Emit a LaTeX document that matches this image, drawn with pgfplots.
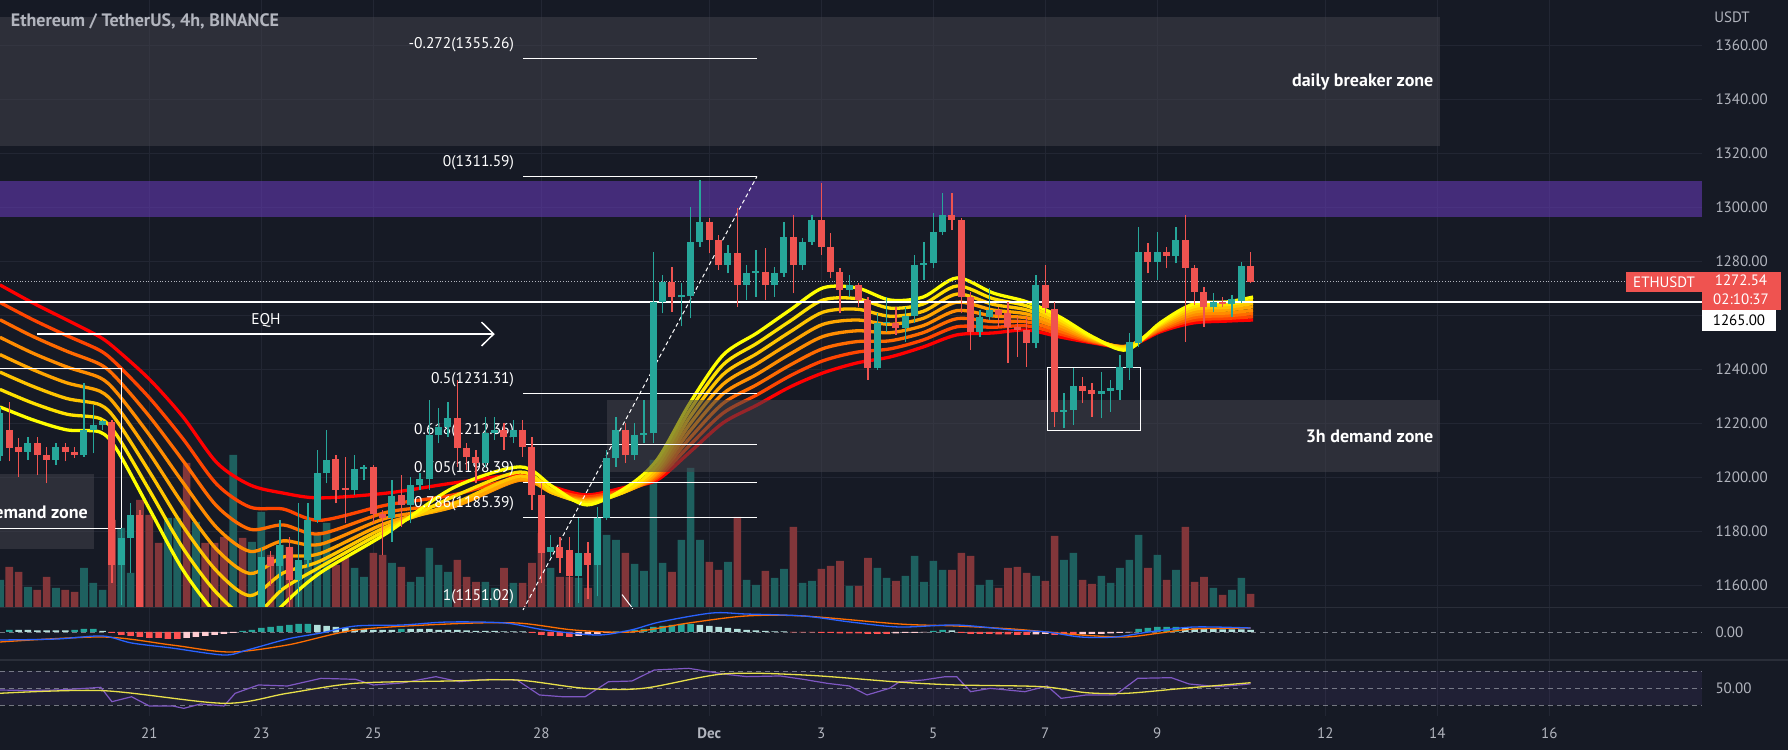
\documentclass[border=0pt]{standalone}
\usepackage{pgfplots}
\pgfplotsset{compat=1.18}
\usepackage{pgfplotstable}
\usepackage{fontspec}
\setmainfont{PT Sans}

\definecolor{bg}{HTML}{161A25}
\definecolor{gridc}{HTML}{222633}
\definecolor{sepc}{HTML}{2A2E39}
\definecolor{txt}{HTML}{B2B5BE}
\definecolor{up}{HTML}{26A69A}
\definecolor{dn}{HTML}{EF5350}
\definecolor{vup}{HTML}{1E605F}
\definecolor{vdn}{HTML}{82363A}
\definecolor{zone}{HTML}{41424B}
\definecolor{purp}{HTML}{6A3CBF}
\definecolor{ema0}{HTML}{FF0000}
\definecolor{ema1}{HTML}{FF4500}
\definecolor{ema2}{HTML}{FF6A00}
\definecolor{ema3}{HTML}{FF8C00}
\definecolor{ema4}{HTML}{FFA500}
\definecolor{ema5}{HTML}{FFC400}
\definecolor{ema6}{HTML}{FFE100}
\definecolor{ema7}{HTML}{FFFF00}
\definecolor{macdc}{HTML}{2962FF}
\definecolor{sigc}{HTML}{FF6D00}
\definecolor{hup}{HTML}{26A69A}
\definecolor{hupl}{HTML}{B2DFDB}
\definecolor{hdn}{HTML}{FF5252}
\definecolor{hdnl}{HTML}{FFCDD2}
\definecolor{rsic}{HTML}{7E57C2}
\definecolor{rsima}{HTML}{E8E04A}
\definecolor{lastred}{HTML}{EF5350}

\pgfplotstableread{
j o h l c
-1 1208.0 1226.0 1206.0 1224.0
2 1209.6 1215.2 1206.6 1212.7
5 1206.6 1212.7 1204.7 1211.5
8 1208.4 1235.0 1207.8 1217.7
9 1217.7 1226.9 1209.0 1219.5
10 1219.5 1221.4 1217.7 1221.0
12 1167.7 1181.3 1153.0 1177.6
13 1177.6 1190.5 1164.6 1186.2
17 1110.0 1126.0 1104.0 1122.0
18 1122.0 1134.0 1118.0 1130.0
20 1090.0 1110.0 1082.0 1105.0
24 1078.0 1130.0 1075.0 1125.0
26 1118.0 1140.0 1115.0 1135.0
27 1135.0 1174.0 1132.0 1170.8
29 1167.1 1184.3 1158.4 1175.1
31 1162.1 1190.5 1152.0 1169.5
32 1169.5 1190.5 1167.0 1184.3
33 1184.3 1210.3 1183.1 1201.6
34 1201.6 1217.7 1197.9 1206.6
37 1195.5 1208.4 1193.6 1203.1
38 1203.1 1204.7 1199.1 1203.8
41 1185.0 1199.1 1176.3 1193.2
43 1189.9 1200.4 1183.1 1197.3
44 1197.3 1201.6 1195.5 1199.4
45 1199.4 1228.8 1195.5 1215.8
46 1215.8 1225.7 1212.7 1218.9
47 1218.9 1228.2 1215.2 1222.0
51 1205.3 1222.6 1204.1 1216.4
52 1216.4 1222.6 1214.0 1217.5
54 1215.0 1221.4 1212.7 1217.5
58 1172.6 1178.8 1170.8 1174.2
61 1163.4 1185.0 1153.5 1172.0
63 1167.7 1189.3 1156.0 1184.9
64 1184.9 1210.3 1184.3 1207.2
65 1207.2 1222.6 1204.1 1217.7
67 1208.4 1220.1 1206.6 1215.8
68 1215.8 1228.8 1212.7 1216.4
69 1216.4 1283.7 1212.7 1265.2
70 1265.2 1275.1 1260.9 1272.6
72 1266.8 1272.0 1256.0 1267.7
73 1267.3 1300.4 1259.0 1287.4
74 1287.4 1310.3 1285.6 1294.8
77 1278.8 1286.2 1275.7 1283.1
79 1271.4 1278.8 1265.8 1275.9
80 1275.9 1284.3 1267.0 1276.5
82 1271.4 1278.2 1267.0 1275.7
83 1275.7 1294.8 1274.5 1289.0
85 1278.8 1288.6 1276.9 1287.4
86 1287.4 1297.3 1286.2 1295.4
90 1269.5 1275.1 1267.0 1271.4
93 1240.5 1260.9 1239.9 1257.2
94 1257.2 1267.0 1254.1 1257.7
96 1255.3 1263.3 1250.4 1259.9
97 1259.9 1282.5 1257.2 1278.8
98 1278.8 1287.4 1273.2 1279.4
99 1279.4 1297.9 1277.5 1291.1
100 1291.1 1305.3 1289.9 1297.3
104 1254.1 1262.1 1252.2 1259.6
105 1259.6 1270.1 1258.4 1262.1
110 1250.0 1275.1 1247.9 1271.4
113 1224.5 1231.2 1218.3 1225.1
114 1225.1 1240.5 1219.5 1234.0
117 1231.0 1239.3 1222.0 1232.2
118 1232.2 1236.2 1224.5 1233.1
119 1232.5 1245.4 1228.8 1240.9
120 1240.5 1253.5 1236.2 1250.4
121 1250.0 1293.0 1248.5 1283.7
123 1280.0 1291.1 1273.2 1283.7
125 1282.1 1293.0 1279.4 1288.0
129 1263.1 1268.3 1261.5 1265.2
131 1264.3 1267.7 1259.6 1266.1
132 1265.6 1280.0 1264.6 1278.4
}\upc

\pgfplotstableread{
j o h l c
0 1217.7 1228.2 1206.0 1210.9
1 1211.5 1214.6 1200.4 1209.6
3 1212.7 1215.2 1201.0 1208.4
4 1208.4 1211.5 1197.9 1206.6
6 1211.5 1212.7 1206.0 1209.6
7 1209.6 1211.5 1207.2 1208.4
11 1220.5 1221.4 1160.9 1167.7
14 1186.2 1188.0 1140.0 1145.0
15 1145.0 1150.0 1124.0 1128.0
16 1128.0 1135.0 1105.0 1110.0
19 1130.0 1133.0 1080.0 1090.0
21 1105.0 1109.0 1090.0 1095.0
22 1095.0 1100.0 1080.0 1085.0
23 1085.0 1090.0 1072.0 1078.0
25 1125.0 1132.0 1112.0 1118.0
28 1170.8 1173.0 1160.0 1167.1
30 1174.5 1178.2 1152.0 1162.1
35 1206.8 1208.4 1190.5 1195.5
36 1196.3 1207.8 1183.1 1195.5
39 1203.8 1204.7 1183.1 1186.6
40 1186.6 1188.0 1171.4 1185.0
42 1193.6 1201.0 1181.9 1189.9
48 1222.0 1236.2 1204.1 1210.9
49 1210.9 1212.7 1202.9 1207.8
50 1207.8 1210.3 1197.9 1205.3
53 1217.5 1220.1 1210.3 1215.0
55 1217.5 1221.4 1207.8 1211.5
56 1211.5 1215.2 1188.0 1193.6
57 1193.6 1197.9 1161.0 1172.0
59 1174.2 1178.2 1164.6 1170.2
60 1173.2 1178.2 1151.0 1163.4
62 1172.0 1176.3 1155.0 1167.7
66 1217.7 1220.1 1205.3 1208.4
71 1272.6 1278.2 1261.5 1267.0
75 1294.8 1296.1 1283.1 1288.0
76 1288.0 1289.9 1276.9 1278.8
78 1283.1 1299.8 1263.3 1271.4
81 1276.3 1285.0 1265.8 1271.4
84 1289.0 1297.3 1268.3 1278.8
87 1295.4 1309.0 1282.5 1285.6
88 1285.6 1290.5 1273.8 1276.0
89 1276.0 1277.5 1260.9 1269.5
91 1271.4 1272.0 1263.3 1265.8
92 1265.8 1267.0 1236.2 1240.5
95 1257.2 1263.3 1252.9 1255.3
101 1297.3 1305.3 1291.7 1295.4
102 1295.4 1296.1 1260.9 1267.0
103 1267.0 1268.9 1247.3 1254.1
106 1262.1 1263.3 1255.9 1260.3
107 1260.9 1265.2 1242.4 1255.9
108 1255.9 1259.6 1244.8 1254.7
109 1254.7 1259.6 1241.1 1250.0
111 1271.4 1278.8 1260.9 1262.7
112 1262.4 1265.2 1218.9 1224.5
115 1234.0 1237.4 1227.6 1232.2
116 1232.5 1235.0 1222.6 1231.0
122 1283.7 1286.8 1275.7 1280.0
124 1283.7 1285.6 1277.5 1282.1
126 1288.0 1297.3 1250.4 1277.5
127 1277.5 1278.8 1264.0 1268.9
128 1268.9 1270.8 1255.9 1263.1
130 1265.2 1267.0 1263.3 1264.3
133 1278.4 1283.7 1272.0 1272.54
}\dnc

\pgfplotstableread{
j e0 e1 e2 e3 e4 e5 e6 e7
-1.0 1271.4 1264.9 1258.5 1252.0 1245.6 1239.1 1232.7 1226.2
2.54 1264.7 1258.5 1252.3 1246.1 1240.0 1233.8 1227.6 1221.4
6.18 1258.4 1252.6 1246.8 1241.0 1235.1 1229.3 1223.5 1217.7
9.72 1252.1 1247.1 1242.0 1237.0 1232.0 1227.0 1221.9 1216.9
11.54 1247.3 1242.0 1236.7 1231.4 1226.2 1220.9 1215.6 1210.3
15.08 1236.2 1229.3 1222.4 1215.5 1208.7 1201.8 1194.9 1188.0
18.61 1222.5 1214.4 1206.3 1198.2 1190.1 1182.0 1173.9 1165.8
22.25 1205.5 1197.5 1189.4 1181.4 1173.3 1165.3 1157.2 1149.2
25.79 1197.3 1189.1 1180.9 1172.7 1164.5 1156.3 1148.1 1139.9
29.33 1194.3 1188.4 1182.5 1176.6 1170.6 1164.7 1158.8 1152.9
33.29 1192.5 1184.2 1179.2 1175.3 1171.9 1169.1 1166.9 1164.7
40.47 1194.3 1189.9 1187.2 1185.1 1183.3 1181.9 1180.7 1179.5
47.54 1198.0 1193.6 1190.6 1189.2 1189.2 1190.3 1192.9 1196.2
54.72 1201.0 1199.9 1199.1 1199.1 1199.5 1200.6 1202.1 1204.0
58.25 1196.6 1195.4 1194.7 1194.3 1194.3 1194.3 1195.1 1196.6
61.90 1193.6 1192.9 1192.1 1191.7 1191.4 1191.0 1190.6 1189.9
66.18 1196.6 1195.8 1195.4 1195.1 1195.1 1195.1 1195.4 1196.6
69.40 1199.1 1199.9 1200.6 1201.4 1202.1 1203.2 1204.7 1206.6
72.93 1209.5 1212.1 1214.7 1217.3 1219.9 1222.5 1225.1 1227.7
76.47 1220.3 1223.9 1227.5 1231.1 1234.6 1238.2 1241.8 1245.4
80.11 1226.9 1230.7 1234.5 1238.3 1242.2 1246.0 1249.8 1253.6
83.65 1233.6 1237.7 1241.7 1245.8 1249.9 1254.0 1258.0 1262.1
87.18 1238.8 1243.3 1247.8 1252.3 1256.8 1261.3 1265.8 1270.3
90.82 1242.5 1246.5 1250.4 1254.4 1258.4 1262.4 1266.3 1270.3
94.36 1244.7 1247.7 1250.7 1253.7 1256.8 1259.8 1262.8 1265.8
97.90 1248.4 1251.0 1253.7 1256.3 1259.0 1261.6 1264.3 1266.9
101.54 1252.9 1255.9 1258.9 1261.9 1265.0 1268.0 1271.0 1274.0
105.40 1253.6 1255.7 1257.8 1259.9 1262.1 1264.2 1266.3 1268.4
109.04 1254.7 1256.2 1257.7 1259.2 1260.6 1262.1 1263.6 1265.1
112.58 1252.1 1253.2 1254.2 1255.3 1256.3 1257.4 1258.4 1259.5
116.11 1249.9 1250.2 1250.5 1250.8 1251.1 1251.5 1251.8 1252.1
119.75 1248.4 1248.6 1248.7 1248.7 1248.6 1248.4 1248.0 1247.3
123.29 1254.0 1254.5 1254.9 1255.4 1255.9 1256.4 1256.8 1257.3
126.83 1257.3 1258.3 1259.3 1260.3 1261.3 1262.3 1263.3 1264.3
130.47 1258.0 1259.0 1260.0 1261.0 1262.1 1263.1 1264.1 1265.1
133.26 1258.4 1259.6 1260.8 1262.0 1263.3 1264.5 1265.7 1266.9
}\ema

\pgfplotsset{
  tvbase/.style={
    scale only axis, width=1702pt, anchor=south west,
    xmin=-0.996, xmax=181.36,
    axis line style={draw=none}, tick style={draw=none},
    clip mode=individual,
    xtick={15,27,39,57,75,87,99,111,123,141,153,165},
    grid style={gridc, line width=1pt},
    /pgf/number format/assume math mode=true,
  },
  wick/.style={draw=none, mark=none, error bars/.cd, y dir=plus, y explicit, error mark=none,
    error bar style={line width=1.1pt, draw=#1, solid}},
  body/.style={draw=none, mark=none, error bars/.cd, y dir=plus, y explicit, error mark=none,
    error bar style={line width=7pt, draw=#1, solid}},
  emaline/.style={smooth, tension=0.5, line width=3.3pt, draw=#1, mark=none},
}

\newcommand{\tf}[1]{\fontsize{#1}{#1}\selectfont}

\begin{document}
\begin{tikzpicture}
\useasboundingbox (0,0) rectangle (1788pt,750pt);
\fill[bg] (0,0) rectangle (1788pt,750pt);

% ---------- grid + price scale ----------
\begin{axis}[tvbase, at={(0pt,143pt)}, height=607pt, ymin=1152.1, ymax=1376.93,
  xmajorgrids, ymajorgrids, xticklabels={},
  ytick={1160,1180,1200,1220,1240,1260,1280,1300,1320,1340,1360},
  yticklabels={1160.00,1180.00,1200.00,1220.00,1240.00,,1280.00,1300.00,1320.00,1340.00,1360.00},
  yticklabel pos=right,
  yticklabel style={anchor=west, xshift=10pt, text=txt, font=\tf{15}},
]
\addplot[draw=none] coordinates {(0,1200)};
\end{axis}

% ---------- volume ----------
\begin{axis}[tvbase, at={(0pt,143pt)}, height=607pt, ymin=0, ymax=607, axis lines=none]
\addplot[ybar, bar shift=0pt, bar width=7.6pt, fill=vup, draw=none] coordinates {
(-1,27)(2,20)(5,19)(8,39)(9,24)(10,17)(12,79)(13,34)(17,89)(18,89)(20,85)(24,152)(26,65)(27,95)
(29,62)(31,45)(32,74)(33,72)(34,84)(37,39)(38,30)(41,44)(43,25)(44,30)(45,59)(46,42)(47,35)(51,25)
(52,19)(54,24)(58,39)(61,29)(63,89)(64,72)(65,67)(67,43)(68,36)(69,147)(70,44)(72,67)(73,139)(74,67)
(77,45)(79,27)(80,22)(82,29)(83,38)(85,24)(86,26)(90,21)(93,39)(94,29)(96,31)(97,51)(98,25)(99,46)
(100,37)(104,22)(105,27)(110,31)(113,47)(114,54)(117,31)(118,24)(119,39)(120,47)(121,72)(123,52)
(125,37)(129,19)(131,17)(132,29)};
\addplot[ybar, bar shift=0pt, bar width=7.6pt, fill=vdn, draw=none] coordinates {
(0,40)(1,35)(3,17)(4,30)(6,17)(7,15)(11,87)(14,107)(15,92)(16,64)(19,144)(21,64)(22,64)(23,70)
(25,69)(28,52)(30,60)(35,42)(36,50)(39,54)(40,52)(42,40)(48,47)(49,30)(50,25)(53,39)(55,24)(56,44)
(57,74)(59,30)(60,30)(62,19)(66,54)(71,35)(75,45)(76,37)(78,90)(81,36)(84,80)(87,38)(88,41)(89,46)
(91,21)(92,49)(95,26)(101,37)(102,54)(103,51)(106,19)(107,39)(108,40)(109,34)(111,26)(112,71)
(115,27)(116,23)(122,39)(124,27)(126,80)(127,25)(128,30)(130,12)(133,13)};
\end{axis}

% ---------- price pane ----------
\begin{axis}[tvbase, at={(0pt,143pt)}, height=607pt, ymin=1152.1, ymax=1376.93,
  xtick=\empty, ytick=\empty]
\fill[zone, fill opacity=0.55] (axis cs:-1,1370.6) rectangle (axis cs:153.3,1323.0);
\fill[purp, fill opacity=0.55] (axis cs:-1,1309.9) rectangle (axis cs:181.36,1296.7);
\addplot[emaline=ema0] table[x=j,y=e0] \ema;
\addplot[emaline=ema1] table[x=j,y=e1] \ema;
\addplot[emaline=ema2] table[x=j,y=e2] \ema;
\addplot[emaline=ema3] table[x=j,y=e3] \ema;
\addplot[emaline=ema4] table[x=j,y=e4] \ema;
\addplot[emaline=ema5] table[x=j,y=e5] \ema;
\addplot[emaline=ema6] table[x=j,y=e6] \ema;
\addplot[emaline=ema7] table[x=j,y=e7] \ema;
\fill[zone, fill opacity=0.55] (axis cs:64.04,1228.8) rectangle (axis cs:153.3,1202.2);
\fill[zone, fill opacity=0.55] (axis cs:-1,1201.4) rectangle (axis cs:9.08,1173.5);
\draw[white, line width=1.8pt] (axis cs:-1,1265) -- (axis cs:181.36,1265);
\draw[txt, line width=0.8pt, dotted] (axis cs:-1,1272.54) -- (axis cs:181.36,1272.54);
\draw[white, line width=1pt] (axis cs:55.04,1355.26) -- (axis cs:80.11,1355.26);
\draw[white, line width=1pt] (axis cs:55.04,1311.59) -- (axis cs:80.11,1311.59);
\draw[white, line width=1pt] (axis cs:55.04,1231.31) -- (axis cs:80.11,1231.31);
\draw[white, line width=1pt] (axis cs:55.04,1212.36) -- (axis cs:80.11,1212.36);
\draw[white, line width=1pt] (axis cs:55.04,1198.39) -- (axis cs:80.11,1198.39);
\draw[white, line width=1pt] (axis cs:55.04,1185.39) -- (axis cs:80.11,1185.39);
\draw[white, line width=1pt, dash pattern=on 4pt off 3pt] (axis cs:55.04,1151.02) -- (axis cs:80.11,1311.59);
\draw[white, line width=1pt] (axis cs:65.65,1156.7) -- (axis cs:66.8,1151.5);
\node[anchor=east, text=white, font=\tf{15.5}, inner sep=0pt] at (axis cs:54.1,1360.2) {-0.272(1355.26)};
\node[anchor=east, text=white, font=\tf{15.5}, inner sep=0pt] at (axis cs:54.1,1316.5) {0(1311.59)};
\node[anchor=east, text=white, font=\tf{15.5}, inner sep=0pt] at (axis cs:54.1,1236.2) {0.5(1231.31)};
\node[anchor=east, text=white, font=\tf{15.5}, inner sep=0pt] at (axis cs:54.1,1217.3) {0.618(1212.36)};
\node[anchor=east, text=white, font=\tf{15.5}, inner sep=0pt] at (axis cs:54.1,1203.3) {0.705(1198.39)};
\node[anchor=east, text=white, font=\tf{15.5}, inner sep=0pt] at (axis cs:54.1,1190.3) {0.786(1185.39)};
\node[anchor=east, text=white, font=\tf{15.5}, inner sep=0pt] at (axis cs:54.1,1155.8) {1(1151.02)};
\draw[white, line width=1.8pt] (axis cs:2.97,1253.2) -- (axis cs:51.9,1253.2);
\draw[white, line width=1.5pt] (axis cs:50.6,1257.6) -- (axis cs:51.9,1253.2) -- (axis cs:50.6,1248.8);
\node[text=white, font=\tf{15.5}] at (axis cs:27.5,1258.1) {EQH};
\draw[white, line width=1pt] (axis cs:-1,1240.5) rectangle (axis cs:12.04,1181.2);
\draw[white, line width=1pt] (axis cs:111.2,1240.9) rectangle (axis cs:121.2,1217.4);
\addplot[wick=up] table[x=j, y=l, y error plus expr=\thisrow{h}-\thisrow{l}] \upc;
\addplot[wick=dn] table[x=j, y=l, y error plus expr=\thisrow{h}-\thisrow{l}] \dnc;
\addplot[body=up] table[x=j, y=o, y error plus expr=\thisrow{c}-\thisrow{o}] \upc;
\addplot[body=dn] table[x=j, y=o, y error plus expr=\thisrow{c}-\thisrow{o}] \dnc;
\node[anchor=east, text=white, font=\bfseries\tf{18}, inner sep=0pt] at (axis cs:152.6,1346.7) {daily breaker zone};
\node[anchor=east, text=white, font=\bfseries\tf{18}, inner sep=0pt] at (axis cs:152.6,1215.3) {3h demand zone};
\node[anchor=east, text=white, font=\bfseries\tf{18}, inner sep=0pt] at (axis cs:8.43,1187.0) {demand zone};
\end{axis}

% ---------- MACD ----------
\begin{axis}[tvbase, at={(0pt,90pt)}, height=53pt, ymin=-28, ymax=25,
  xmajorgrids, xticklabels={},
  ytick={0}, yticklabels={0.00}, yticklabel pos=right,
  yticklabel style={anchor=west, xshift=10pt, text=txt, font=\tf{15}}]
\draw[txt, opacity=0.6, dash pattern=on 5pt off 4pt] (axis cs:-1,0) -- (axis cs:181.36,0);
\addplot[ybar, bar shift=0pt, bar width=6.5pt, fill=hup, draw=none] coordinates {
(0,2)(7,2)(8,3)(9,3)(25,1)(26,2)(27,4)(28,5)(29,6)(30,7)(31,8)(32,8)(42,3)(65,0.5)(66,1)(67,2)(68,3)
(69,5)(70,6)(71,7)(72,8)(73,8)(99,1)(100,2)(121,3)(122,4)(123,5)(124,5)(125,5)};
\addplot[ybar, bar shift=0pt, bar width=6.5pt, fill=hupl, draw=none] coordinates {
(1,2)(2,2)(3,1.5)(4,1.5)(5,1.5)(6,1.5)(10,1)(33,7)(34,6)(35,5)(36,4)(37,3)(38,3)(39,2)(40,2)(41,2)
(43,3)(44,3)(45,3)(46,2)(47,2)(48,2)(49,1.5)(50,1)(51,1)(52,1)(53,0.5)(54,0.5)(55,0.5)(74,7)(75,6)
(76,5)(77,4)(78,3)(79,2)(80,1.5)(81,1)(82,0.5)(83,0.5)(101,1.5)(126,4)(127,3.5)(128,3)(129,3)(130,2.5)
(131,2.5)(132,2.5)(133,2)};
\addplot[ybar, bar shift=0pt, bar width=6.5pt, fill=hdn, draw=none] coordinates {
(11,-1)(12,-3)(13,-4)(14,-5)(15,-6)(16,-6)(17,-7)(18,-7)(56,-1)(57,-3)(58,-4)(59,-4)(60,-5)(84,-0.5)
(85,-0.5)(86,-0.5)(87,-1)(88,-1)(89,-1.5)(90,-1.5)(91,-1.5)(92,-2)(93,-2)(94,-2)(102,-1)(103,-2)
(104,-2)(105,-2)(106,-2.5)(107,-2.5)(108,-3)(109,-3)(112,-3)(113,-3)(114,-3)};
\addplot[ybar, bar shift=0pt, bar width=6.5pt, fill=hdnl, draw=none] coordinates {
(19,-6)(20,-5)(21,-4)(22,-3)(23,-2)(24,-1)(61,-4)(62,-3)(63,-2)(64,-1)(95,-1.5)(96,-1)(97,-1)(98,-0.5)
(110,-2.5)(111,-2)(115,-2.5)(116,-2)(117,-2)(118,-1.5)(119,-1)(120,-0.5)};
\addplot[smooth, sigc, line width=1.3pt, mark=none] coordinates {
(-1,-10)(10,-5)(17.4,-13)(23.6,-20)(29.8,-13)(37.1,2)(47,8)(54.4,9)(60.5,2)(66.6,0)(72.8,9)(78.9,16)
(85.1,16)(95.4,8)(101.5,6)(107.5,3)(111.2,0)(114.8,-3)(119.6,-5)(123.3,-1)(126.9,3)(133,4)};
\addplot[smooth, macdc, line width=1.3pt, mark=none] coordinates {
(-1,-8)(5.1,-7)(10,-4)(13.1,-11)(17.4,-16)(23,-23)(25.5,-18)(29.8,-7)(33.4,-1)(37.1,6)(42.1,7)(47,10)
(53.1,9)(57.4,2)(63,-3)(66.6,2)(69.7,10)(75.3,19)(78.9,18)(85.1,16)(90.1,10)(95.4,5)(101.5,7)(107.5,2)
(111.2,0)(114.8,-5)(118.5,-5)(122.1,0)(126.9,5)(133,4)};
\end{axis}

% ---------- RSI ----------
\begin{axis}[tvbase, at={(0pt,34pt)}, height=56pt, ymin=16.67, ymax=83.33,
  xmajorgrids,
  xticklabels={21,23,25,28,\textbf{Dec},3,5,7,9,12,14,16},
  xticklabel style={text=txt, font=\tf{15}, yshift=-8pt},
  ytick={50}, yticklabels={50.00}, yticklabel pos=right,
  yticklabel style={anchor=west, xshift=10pt, text=txt, font=\tf{15}}]
\fill[rsic, fill opacity=0.1] (axis cs:-1,30) rectangle (axis cs:181.36,70);
\draw[txt, opacity=0.6, dash pattern=on 5pt off 4pt] (axis cs:-1,30) -- (axis cs:181.36,30);
\draw[txt, opacity=0.6, dash pattern=on 5pt off 4pt] (axis cs:-1,50) -- (axis cs:181.36,50);
\draw[txt, opacity=0.6, dash pattern=on 5pt off 4pt] (axis cs:-1,70) -- (axis cs:181.36,70);
\addplot[rsic, line width=1.2pt, mark=none] coordinates {
(-1,47.6)(2.1,47)(5.2,47.6)(8.2,49.6)(9.8,50.8)(11,33.7)(13.1,39.6)(15,28.6)(17.5,28.6)(18.7,25.8)
(20.5,31)(23,28.6)(24.2,43.7)(26.7,53.6)(29.8,52.4)(33.4,61.5)(37.1,60.3)(39,53.6)(42.1,56)(45.7,63.5)
(48.2,57.5)(51.3,60.3)(54.4,59.5)(56.8,41.7)(59.3,39.6)(61.7,39.6)(64.2,57.5)(66.7,58.3)(69.1,71.4)
(72.8,73.4)(76.5,66.7)(79,63.5)(82.6,64.3)(85.1,60.3)(87.6,55.6)(90,52.4)(91.9,41.7)(94.3,49.6)
(95.4,57.5)(97.9,59.5)(100.3,63.5)(101.5,63.5)(103,45.6)(105.1,49.6)(108.8,45.6)(111.2,52.4)
(112.7,37.7)(115.4,41.7)(118.5,41.7)(120.9,61.5)(124.5,62.3)(126.4,54.8)(129.4,51.6)(131.8,53.6)(133,55)};
\addplot[smooth, rsima, line width=1.3pt, mark=none] coordinates {
(-1,43.7)(10.1,46.8)(23,31.8)(29.8,43.7)(37.1,55.6)(47,58.3)(54.4,59.5)(61.7,49.6)(67.9,49.6)
(76.5,66.7)(85.1,65.5)(95.4,57)(101.5,53.6)(110.6,51.6)(115.4,44.4)(119.7,43.7)(125.8,49.6)(133,56.3)};
\end{axis}

\draw[sepc, line width=1.2pt] (0,142.5pt) -- (1788pt,142.5pt);
\draw[sepc, line width=1.2pt] (0,90pt) -- (1788pt,90pt);
\node[anchor=west, text=txt, font=\bfseries\tf{18}, inner sep=0pt] at (10.7pt,729pt) {Ethereum / TetherUS, 4h, BINANCE};
\node[text=txt, font=\tf{15}] at (1732pt,733pt) {USDT};
\fill[lastred] (1626pt,478pt) rectangle (1702pt,458pt);
\node[text=white, font=\tf{15}] at (1664pt,468pt) {ETHUSDT};
\fill[lastred] (1702pt,478pt) rectangle (1781pt,440pt);
\node[text=white, font=\tf{15}] at (1741pt,469.5pt) {1272.54};
\node[text=white, font=\tf{15}] at (1741pt,451pt) {02:10:37};
\fill[white] (1702pt,440pt) rectangle (1776pt,419.3pt);
\node[text=black, font=\tf{15}] at (1739pt,429.7pt) {1265.00};
\end{tikzpicture}
\end{document}
